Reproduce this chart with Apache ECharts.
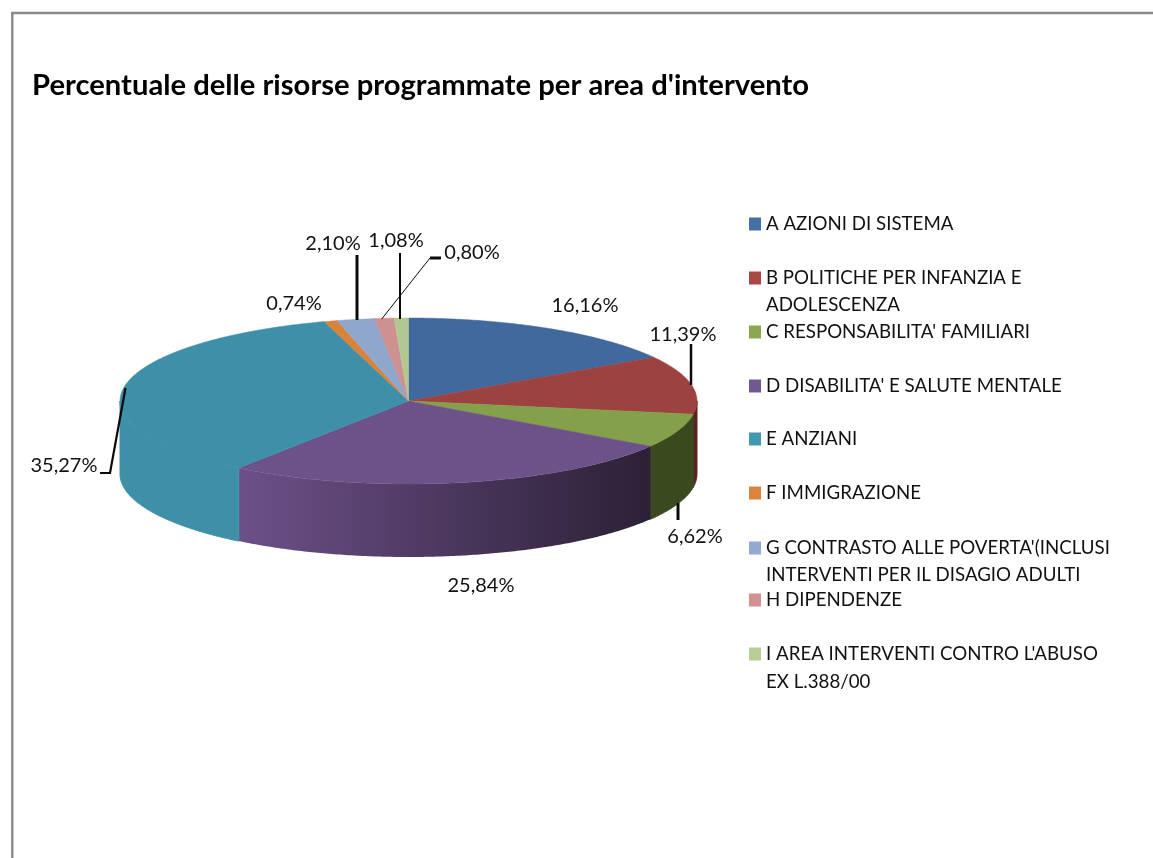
<!DOCTYPE html>
<html><head><meta charset="utf-8">
<style>html,body{margin:0;padding:0;background:#fff}#c{width:1153px;height:858px}</style>
<script src="https://cdn.jsdelivr.net/npm/echarts@6/dist/echarts.min.js"></script>
</head><body><div id="c"></div>
<script>
const chartTitle = "Percentuale delle risorse programmate per area d'intervento";
const categories = [
  "A AZIONI DI SISTEMA",
  "B POLITICHE PER INFANZIA E ADOLESCENZA",
  "C RESPONSABILITA' FAMILIARI",
  "D DISABILITA' E SALUTE MENTALE",
  "E ANZIANI",
  "F IMMIGRAZIONE",
  "G CONTRASTO ALLE POVERTA'(INCLUSI INTERVENTI PER IL DISAGIO ADULTI",
  "H DIPENDENZE",
  "I AREA INTERVENTI CONTRO L'ABUSO EX L.388/00"
];
const values = [16.16, 11.39, 6.62, 25.84, 35.27, 0.74, 2.10, 1.08, 0.80];

const legendFirstLines = ["A AZIONI DI SISTEMA","B POLITICHE PER INFANZIA E","C RESPONSABILITA' FAMILIARI","D DISABILITA' E SALUTE MENTALE","E ANZIANI","F IMMIGRAZIONE","G CONTRASTO ALLE POVERTA'(INCLUSI","H DIPENDENZE","I AREA INTERVENTI CONTRO L'ABUSO"];
const legendSecondLines = ["","ADOLESCENZA","","","","","INTERVENTI PER IL DISAGIO ADULTI","","EX L.388/00"];
const legendRows = [224,278,332,386,439,493,548,600,654];
const legendRows2 = [0,305,0,0,0,0,575,0,682];

const topColors = ['#41699e','#9c4240','#84a04a','#6d5189','#3e8fa8','#d9823a','#8fa6cd','#cd9190','#b2c893'];
const legendColors = ['#4470a6','#aa4644','#8ca84e','#71588f','#4198af','#db843d','#93a9cf','#d19392','#b9cd96'];
const wallColors = ['#41699e','#5e2220','#3a4a1e',['#6c5088','#2c2036'],'#3e8fa8','#d9823a','#8fa6cd','#cd9190','#b2c893'];

const labelCenters = [[585,306],[683,335],[695,537],[481,586],[64,466],[294,304],[333,244],[396,241],[472,253]];
const leaders = [null,[[[691,344],[691,385]]],[[[678,503],[678,520]]],null,[[[125.5,388],[110,473],[100,473]]],null,[[[357,255],[357,320]]],[[[400,253],[400,319]]],[[[381.7,319],[430,258]],[[430,258],[441,258]]]];
const leaderWidths = [0,2.5,3,0,2.2,0,3,2,1,3];

const cx = 408.5, cy = 401, rx = 288.5, ry = 83, depth = 73;
const total = values.reduce((a,b)=>a+b,0);
const startOf = i => values.slice(0,i).reduce((a,b)=>a+b,0)/total*Math.PI*2;
const pt = (t,dy)=>[cx+rx*Math.sin(t), cy-ry*Math.cos(t)+(dy||0)];
function arc(a,b,dy){const n=Math.max(2,Math.ceil((b-a)/0.01));const out=[];for(let k=0;k<=n;k++)out.push(pt(a+(b-a)*k/n,dy));return out;}

function render(i){
  return function(params, api){
    const v = api.value(0);
    const a = startOf(i), b = a + v/total*Math.PI*2;
    const kids = [];
    const wa = Math.max(a,Math.PI/2), wb = Math.min(b,Math.PI*1.5);
    if (wb>wa){
      const wc = wallColors[i];
      const fill = Array.isArray(wc) ? new echarts.graphic.LinearGradient(0,0,1,0,[{offset:0,color:wc[0]},{offset:1,color:wc[1]}]) : wc;
      kids.push({type:'polygon',shape:{points:arc(wa,wb,0).concat(arc(wa,wb,depth).reverse())},style:{fill:fill,stroke:Array.isArray(wc)?null:wc,lineWidth:1}});
    }
    kids.push({type:'polygon',shape:{points:[[cx,cy]].concat(arc(a,b,0))},style:{fill:topColors[i],stroke:topColors[i],lineWidth:0.5}});
    return {type:'group',children:kids};
  };
}
function renderLabel(i){
  return function(params, api){
    const kids = [];
    (leaders[i]||[]).forEach((pts,j)=>{
      const w = (i===8) ? (j===0?1:3) : leaderWidths[i];
      kids.push({type:'polyline',shape:{points:pts},style:{fill:null,stroke:'#0a0a0a',lineWidth:w}});
    });
    kids.push({type:'text',style:{text:api.value(0).toFixed(2).replace('.',',')+'%',x:labelCenters[i][0],y:labelCenters[i][1],align:'center',verticalAlign:'middle',fill:'#111',font:'20px Lato'}});
    return {type:'group',children:kids};
  };
}

const series = categories.map((name,i)=>({
  type:'custom',name:name,coordinateSystem:'none',silent:true,z:2,
  itemStyle:{color:legendColors[i]},
  renderItem:render(i),data:[[values[i]]]
})).concat(categories.map((name,i)=>({
  type:'custom',name:name+' etichetta',coordinateSystem:'none',silent:true,z:3,
  renderItem:renderLabel(i),data:[[values[i]]]
})));

const legends = categories.map((name,i)=>({
  data:[name],left:749,top:legendRows[i]-10,padding:0,itemWidth:12,itemHeight:13,icon:'rect',
  selectedMode:false,orient:'vertical',
  formatter:()=>legendFirstLines[i],
  textStyle:{fontFamily:'Lato',fontSize:18.7,color:'#111',lineHeight:20}
}));

const continuation = legendSecondLines.map((t,i)=>t?{type:'text',left:766,top:legendRows2[i]-10,style:{text:t,fontFamily:'Lato',fontSize:18.7,lineHeight:20,fill:'#111'}}:null).filter(Boolean);

const chart = echarts.init(document.getElementById('c'),null,{renderer:'canvas'});
chart.setOption({
  animation:false,backgroundColor:'#fff',
  title:{text:chartTitle,left:32,top:69,padding:0,textStyle:{fontFamily:'Lato',fontWeight:'bold',fontSize:29.2,color:'#000',lineHeight:34}},
  legend:legends,
  series:series,
  graphic:[
    {type:'line',shape:{x1:11,y1:13,x2:1153,y2:13},style:{stroke:'#8a8a8a',lineWidth:2.4}},
    {type:'line',shape:{x1:12.3,y1:12,x2:12.3,y2:858},style:{stroke:'#8a8a8a',lineWidth:2.4}}
  ].concat(continuation)
});
</script></body></html>
